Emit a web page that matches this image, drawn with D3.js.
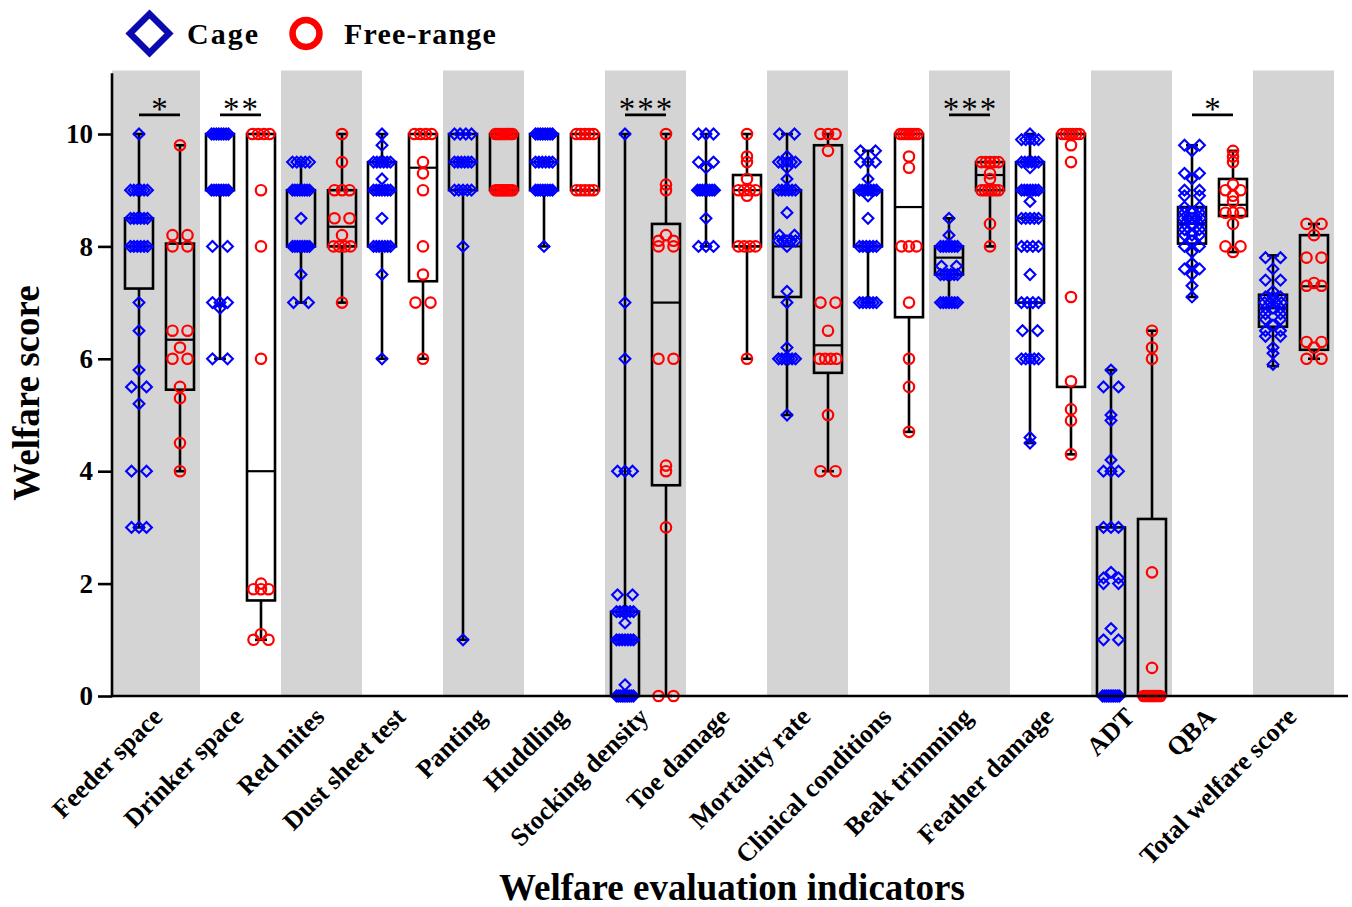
<!DOCTYPE html>
<html>
<head>
<meta charset="utf-8">
<script src="https://cdn.jsdelivr.net/npm/d3@7"></script>
<style>
	body { margin: 0; background: #fff; }
	svg text { font-family: "Liberation Serif", "Times New Roman", serif; }
</style>
</head>
<body>
<svg id="chart" width="1352" height="907"></svg>
<script>
'use strict';

//Indicators along the x axis
var categories = ["Feeder space", "Drinker space", "Red mites", "Dust sheet test", "Panting",
	"Huddling", "Stocking density", "Toe damage", "Mortality rate", "Clinical conditions",
	"Beak trimming", "Feather damage", "ADT", "QBA", "Total welfare score"];

//Box statistics: [min, q1, median, q3, max]
var cageBox = [
	[3, 7.25, 8, 8.5, 10], [6, 9, 10, 10, 10], [7, 8, 9, 9, 9.5], [6, 8, 9, 9.5, 10],
	[1, 9, 9.5, 10, 10], [8, 9, 9.5, 10, 10], [0, 0, 1, 1.5, 10], [8, 9, 9, 9, 10],
	[5, 7.1, 8, 9, 10], [7, 8, 9, 9, 9.7], [7, 7.5, 7.8, 8, 8.5], [4.5, 7, 8.5, 9.5, 10],
	[0, 0, 0, 3, 5.8], [7.1, 8.05, 8.4, 8.7, 9.8], [5.87, 6.57, 6.9, 7.14, 7.84]
];
var freeBox = [
	[4, 5.45, 6.34, 8.05, 9.8], [1, 1.7, 4, 10, 10], [7, 8, 8.35, 9, 10], [6, 7.38, 9.4, 10, 10],
	[9, 9, 9, 10, 10], [9, 9, 9, 10, 10], [0, 3.75, 7, 8.4, 10], [6, 8, 9, 9.27, 10],
	[4, 5.75, 6.24, 9.8, 10], [4.7, 6.74, 8.7, 10, 10], [8, 9, 9.27, 9.5, 9.5], [4.3, 5.5, 10, 10, 10],
	[0, 0, 0, 3.15, 6.5], [7.9, 8.54, 8.74, 9.2, 9.7], [6, 6.16, 7.29, 8.2, 8.4]
];

//Individual scores
var cagePoints = [
	[10, 9,9,9,9,9,9, 8.5,8.5,8.5,8.5,8.5,8.5, 8,8,8,8,8,8, 7, 6.5, 5.8, 5.5,5.5, 5.2, 4,4, 3,3,3],
	[10,10,10,10,10,10,10,10, 9,9,9,9,9,9,9,9, 8,8, 7,7,7, 6.9, 6,6],
	[9.5,9.5,9.5,9.5,9.5, 9,9,9,9,9,9,9,9, 8.5, 8,8,8,8,8,8,8,8, 7.5, 7,7],
	[10, 9.8, 9.5,9.5,9.5,9.5,9.5,9.5, 9.2, 9,9,9,9,9,9,9, 8.5, 8,8,8,8,8,8,8, 7.5, 6],
	[10,10,10,10, 9.5,9.5,9.5,9.5,9.5,9.5, 9,9,9,9,9, 8, 1],
	[10,10,10,10,10,10,10,10, 9.5,9.5,9.5,9.5,9.5,9.5, 9,9,9,9,9,9,9,9, 8],
	[10, 7, 6, 4,4,4, 1.8,1.8, 1.5,1.5,1.5,1.5,1.5,1.5, 1.3, 1,1,1,1,1,1,1, 0.2, 0,0,0,0,0,0,0,0,0,0],
	[10,10,10, 9.5,9.5, 9.4, 9,9,9,9,9,9,9,9, 8.5, 8,8,8],
	[10,10, 9.6, 9.5,9.5,9.5,9.5,9.5, 9.4, 9.2, 9,9,9,9,9,9, 8.6, 8.2,8.2, 8.1,8.1,8.1,8.1,8.1, 8, 7.2, 7, 6.2, 6,6,6,6,6,6, 5],
	[9.7,9.7, 9.5,9.5,9.5, 9.2, 9,9,9,9,9,9,9, 8.9, 8.5, 8,8,8,8,8,8, 7,7,7,7,7,7],
	[8.5, 8.2, 8,8,8,8,8,8,8, 7.65,7.65, 7.5,7.5,7.5,7.5,7.5,7.5, 7,7,7,7,7,7,7],
	[10, 9.9,9.9,9.9,9.9,9.9, 9.5,9.5,9.5,9.5,9.5,9.5, 9.4, 9,9,9,9,9,9,9, 8.8, 8.5,8.5,8.5,8.5,8.5, 8,8,8,8, 7.5, 7,7,7,7, 6.5,6.5, 6,6,6,6,6, 4.6, 4.5],
	[5.8, 5.5,5.5, 5, 4.9, 4.2, 4,4,4, 3,3,3, 2.2, 2.1,2.1, 2,2, 1.2, 1,1, 0,0,0,0,0,0,0,0,0,0],
	[9.8,9.8, 9.7, 9.3,9.3, 9.2, 9,9, 8.9,8.9, 8.7,8.7, 8.6,8.6,8.6, 8.5,8.5,8.5,8.5,8.5, 8.4,8.4,8.4, 8.3,8.3, 8.2,8.2,8.2, 8.1, 8,8, 7.9, 7.7, 7.6,7.6, 7.5, 7.3, 7.1],
	[7.8,7.8, 7.6, 7.4,7.4, 7.2, 7.1,7.1,7.1, 7,7,7,7, 6.9,6.9,6.9, 6.8,6.8, 6.7,6.7, 6.6, 6.5,6.5, 6.4,6.4, 6.2, 6.1, 5.9]
];
var freePoints = [
	[9.8, 8.2,8.2, 8,8, 6.5,6.5, 6.2, 6,6, 5.5, 5.3, 4.5, 4],
	[10,10,10,10, 9, 8, 6, 2, 1.9,1.9,1.9, 1.1, 1,1],
	[10, 9.5, 9,9,9, 8.5,8.5, 8.2, 8,8,8,8, 7],
	[10,10,10,10, 9.5, 9.3, 9, 8, 7.5, 7,7, 6],
	[10,10,10,10,10,10,10,10,10, 9,9,9,9,9,9,9,9,9],
	[10,10,10,10,10, 9,9,9,9,9],
	[10, 9.1, 9, 8.2, 8.1,8.1, 8,8, 6,6, 4.1, 4, 3, 0,0],
	[10, 9.6, 9.5, 9.2, 9,9,9,9, 8.9, 8,8,8,8, 6],
	[10,10,10, 9.7, 7,7, 6.5, 6,6,6,6, 5, 4,4],
	[10,10,10,10,10,10,10, 9.6, 9.4, 8,8,8, 7, 6, 5.5, 4.7],
	[9.5,9.5,9.5,9.5,9.5, 9.3, 9.2, 9,9,9,9,9,9, 8.4, 8],
	[10,10,10,10,10,10, 9.8, 9.5, 7.1, 5.6, 5.1, 4.9, 4.3],
	[6.5, 6.2, 6, 2.2, 0.5, 0,0,0,0,0,0,0,0,0,0],
	[9.7, 9.6, 9.5, 9.1, 9,9, 8.9, 8.8, 8.6,8.6,8.6, 8.4, 8,8, 7.9],
	[8.4,8.4, 8.2, 7.8,7.8, 7.35, 7.3,7.3, 6.3,6.3, 6.2, 6,6]
];

//Significance marks between the two housing systems
var sigCategories = ["Feeder space", "Drinker space", "Stocking density", "Beak trimming", "QBA"];
var sigLabels = ["*", "**", "***", "***", "*"];

var yTicks = [0, 2, 4, 6, 8, 10];

(function() {
	var svg = d3.select('#chart');

	var CAGE = '#0000ff', FREE = '#ff0000';
	var plotLeft = 112, plotRight = 1348;

	/***************************************
	 * SCALES
	 ***************************************/
	var x = d3.scaleBand().domain(categories).range([119, 1334]);
	var y = d3.scaleLinear().domain([0, 10]).range([696, 134]);
	var offset = 20.5, boxW = 28, capW = 12;

	function center(c) { return x(c) + x.bandwidth()/2; }

	//Grey bands behind every other indicator
	svg.append('g').selectAll('rect')
		.data(categories.filter(function(d, i) { return i % 2 == 0; }))
		.enter().append('rect')
			.attr('x', function(d, i) { return i == 0 ? plotLeft : x(d); })
			.attr('width', function(d, i) { return i == 0 ? x(d) + x.bandwidth() - plotLeft : x.bandwidth(); })
			.attr('y', y(11.13))
			.attr('height', y(0) - y(11.13))
			.attr('fill', '#d4d4d4');

	/***************************************
	 * BOXES
	 ***************************************/
	function drawBoxes(stats, dx) {
		var g = svg.append('g')
			.attr('fill', 'none').attr('stroke', '#000').attr('stroke-width', 2.6);
		stats.forEach(function(s, i) {
			var cx = center(categories[i]) + dx;
			g.append('line').attr('x1', cx).attr('x2', cx).attr('y1', y(s[0])).attr('y2', y(s[1]));
			g.append('line').attr('x1', cx).attr('x2', cx).attr('y1', y(s[3])).attr('y2', y(s[4]));
			g.append('line').attr('x1', cx - capW/2).attr('x2', cx + capW/2).attr('y1', y(s[0])).attr('y2', y(s[0]));
			g.append('line').attr('x1', cx - capW/2).attr('x2', cx + capW/2).attr('y1', y(s[4])).attr('y2', y(s[4]));
			g.append('rect').attr('x', cx - boxW/2).attr('width', boxW)
				.attr('y', y(s[3])).attr('height', y(s[1]) - y(s[3]));
			g.append('line').attr('x1', cx - boxW/2).attr('x2', cx + boxW/2)
				.attr('y1', y(s[2])).attr('y2', y(s[2])).attr('stroke-width', 2.2);
		});
	}
	drawBoxes(cageBox, -offset);
	drawBoxes(freeBox, offset);

	/***************************************
	 * POINTS
	 ***************************************/
	//Spread equal scores side by side, like a column scatter
	function spread(values) {
		var out = [];
		d3.group(values, function(v) { return v; }).forEach(function(arr, v) {
			var n = arr.length;
			var half = n == 1 ? 0 : (n <= 3 ? 7.5 : 8.5);
			arr.forEach(function(d, k) {
				out.push({value: v, dx: n == 1 ? 0 : -half + 2*half*k/(n - 1)});
			});
		});
		return out;
	}

	var diamond = 'M0,-5.4L5.4,0L0,5.4L-5.4,0Z';
	cagePoints.forEach(function(vals, i) {
		var cx = center(categories[i]) - offset;
		svg.append('g').selectAll('path')
			.data(spread(vals))
			.enter().append('path')
				.attr('d', diamond)
				.attr('transform', function(d) { return 'translate(' + (cx + d.dx) + ',' + y(d.value) + ')'; })
				.attr('fill', 'none').attr('stroke', CAGE).attr('stroke-width', 2.1);
	});
	freePoints.forEach(function(vals, i) {
		var cx = center(categories[i]) + offset;
		svg.append('g').selectAll('circle')
			.data(spread(vals))
			.enter().append('circle')
				.attr('cx', function(d) { return cx + d.dx; })
				.attr('cy', function(d) { return y(d.value); })
				.attr('r', 5.2)
				.attr('fill', 'none').attr('stroke', FREE).attr('stroke-width', 2.2);
	});

	/***************************************
	 * AXES
	 ***************************************/
	var yAxis = svg.append('g')
		.attr('transform', 'translate(' + plotLeft + ',0)')
		.call(d3.axisLeft(y).tickValues(yTicks).tickSize(14).tickPadding(5).tickSizeOuter(0));
	yAxis.select('.domain').remove();
	yAxis.selectAll('line').attr('stroke-width', 2.6);
	yAxis.selectAll('text')
		.attr('font-size', 27).attr('font-weight', 'bold')
		.attr('font-family', '"Liberation Serif", serif').attr('fill', '#000');

	svg.append('line')
		.attr('x1', plotLeft).attr('x2', plotLeft).attr('y1', y(11.08)).attr('y2', y(0) + 1.3)
		.attr('stroke', '#000').attr('stroke-width', 2.6);

	var xAxis = svg.append('g')
		.attr('transform', 'translate(0,' + y(0) + ')')
		.call(d3.axisBottom(x).tickSize(0));
	xAxis.select('.domain').remove();
	xAxis.selectAll('text')
		.attr('font-size', 26).attr('font-weight', 'bold')
		.attr('font-family', '"Liberation Serif", serif').attr('fill', '#000')
		.attr('text-anchor', 'end')
		.attr('x', 0).attr('y', 0).attr('dy', '0.35em')
		.attr('transform', 'translate(-2,16) rotate(-45)');

	svg.append('line')
		.attr('x1', plotLeft).attr('x2', plotRight).attr('y1', y(0)).attr('y2', y(0))
		.attr('stroke', '#000').attr('stroke-width', 2.6);

	//Axis titles
	svg.append('text')
		.attr('transform', 'translate(39,' + 393 + ') rotate(-90)')
		.attr('text-anchor', 'middle')
		.attr('font-size', 37).attr('font-weight', 'bold')
		.text('Welfare score');
	svg.append('text')
		.attr('x', 732).attr('y', 900)
		.attr('text-anchor', 'middle')
		.attr('font-size', 37).attr('font-weight', 'bold')
		.text('Welfare evaluation indicators');

	/***************************************
	 * SIGNIFICANCE
	 ***************************************/
	var sig = svg.append('g');
	sigCategories.forEach(function(c, i) {
		var c0 = center(c) - offset, c1 = center(c) + offset;
		sig.append('line')
			.attr('x1', c0).attr('x2', c1).attr('y1', y(10.34)).attr('y2', y(10.34))
			.attr('stroke', '#000').attr('stroke-width', 2.6);
		sig.append('text')
			.attr('x', (c0 + c1)/2 + 1).attr('y', y(10.34) + 5.5)
			.attr('text-anchor', 'middle')
			.attr('font-size', 33).attr('letter-spacing', 2)
			.text(sigLabels[i]);
	});

	/***************************************
	 * LEGEND
	 ***************************************/
	var legend = svg.append('g');
	legend.append('path')
		.attr('d', 'M0,-19.5L19.5,0L0,19.5L-19.5,0Z')
		.attr('transform', 'translate(149.5,33.5)')
		.attr('fill', 'none').attr('stroke', '#0a0ab0').attr('stroke-width', 6.5);
	legend.append('text')
		.attr('x', 187).attr('y', 43.5)
		.attr('font-size', 30).attr('font-weight', 'bold').attr('letter-spacing', 2)
		.text('Cage');
	legend.append('circle')
		.attr('cx', 306).attr('cy', 33.5).attr('r', 13.5)
		.attr('fill', 'none').attr('stroke', '#ff0000').attr('stroke-width', 6.5);
	legend.append('text')
		.attr('x', 344).attr('y', 43.5)
		.attr('font-size', 30).attr('font-weight', 'bold').attr('letter-spacing', 1.2)
		.text('Free-range');
})();
</script>
</body>
</html>
